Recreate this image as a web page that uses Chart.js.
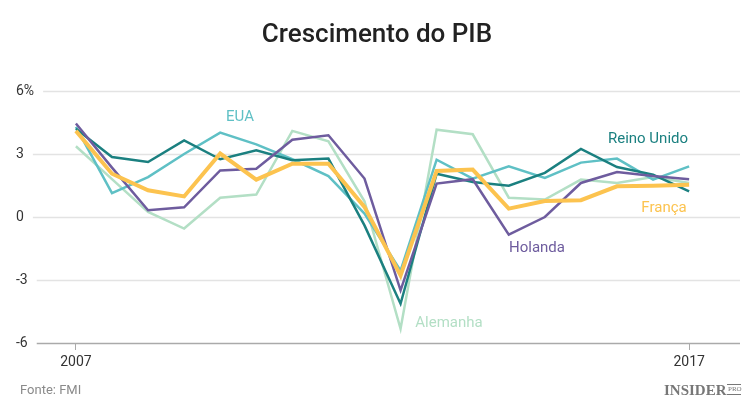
<!DOCTYPE html>
<html>
<head>
<meta charset="utf-8">
<script src="https://cdn.jsdelivr.net/npm/chart.js@4"></script>
<style>
  html, body { margin: 0; padding: 0; background: #fff; }
  #wrap { width: 750px; height: 411px; position: relative; }
</style>
</head>
<body>
<div id="wrap"><canvas id="chart" width="750" height="411"></canvas></div>
<script>
// GDP growth, 18 points from 2007 to 2017
const periods = ["2007", "", "", "", "", "", "", "", "", "", "", "", "", "", "", "", "", "2017"];
const reinoUnido = [4.2, 2.86, 2.62, 3.65, 2.75, 3.18, 2.7, 2.78, -0.4, -4.13, 2.06, 1.67, 1.49, 2.1, 3.24, 2.38, 2.02, 1.22];
const eua = [4.29, 1.14, 1.9, 3.0, 4.02, 3.46, 2.75, 1.95, 0.16, -2.55, 2.73, 1.83, 2.41, 1.86, 2.59, 2.78, 1.78, 2.41];
const holanda = [4.45, 2.35, 0.32, 0.46, 2.22, 2.3, 3.68, 3.89, 1.83, -3.49, 1.59, 1.8, -0.84, 0.0, 1.62, 2.14, 1.95, 1.8];
const franca = [4.1, 2.06, 1.27, 0.98, 3.02, 1.78, 2.54, 2.54, 0.48, -2.78, 2.19, 2.26, 0.4, 0.76, 0.8, 1.46, 1.49, 1.54];
const alemanha = [3.37, 1.8, 0.24, -0.55, 0.92, 1.07, 4.1, 3.6, 0.75, -5.32, 4.16, 3.94, 0.92, 0.83, 1.78, 1.62, 1.9, 1.62];
const yTicks = [-6, -3, 0, 3, 6];

const colors = {
    ru: "#1b8080",
    eua: "#5fc0c5",
    hol: "#6e5c9e",
    fra: "#fcc34f",
    ale: "#b3dfc5"
};

const tickFont = "14px Roboto";
const yLabel = v => (v === 6 ? "6%" : String(v));

function toPoints(arr) {
    return arr.map((v, i) => ({ x: i, y: v }));
}

// y labels left aligned, grid lines start right after their own label
const gridLines = {
    id: "gridLines",
    beforeDatasetsDraw(chart) {
        const ctx = chart.ctx;
        const y = chart.scales.y;
        const right = chart.chartArea.right;
        ctx.save();
        ctx.font = tickFont;
        ctx.textAlign = "left";
        ctx.textBaseline = "middle";
        yTicks.forEach(v => {
            const py = Math.round(y.getPixelForValue(v)) + 0.5;
            const txt = yLabel(v);
            ctx.fillStyle = "#333";
            ctx.fillText(txt, 16, py);
            const start = 16 + ctx.measureText(txt).width + 9;
            ctx.beginPath();
            ctx.strokeStyle = v === -6 ? "#aaa" : "#e3e3e3";
            ctx.lineWidth = 1.5;
            ctx.moveTo(start, py);
            ctx.lineTo(right, py);
            ctx.stroke();
        });
        ctx.restore();
    }
};

// labels next to lines, title and footer
const decorations = {
    id: "decorations",
    afterDraw(chart) {
        const ctx = chart.ctx;
        ctx.save();
        ctx.textAlign = "center";
        ctx.textBaseline = "middle";
        ctx.fillStyle = "#222";
        ctx.font = "500 26px Roboto";
        ctx.fillText("Crescimento do PIB", 377, 35);

        ctx.font = "15px Roboto";
        ctx.fillStyle = colors.eua;
        ctx.fillText("EUA", 240, 117);
        ctx.fillStyle = colors.ru;
        ctx.fillText("Reino Unido", 648, 139);
        ctx.fillStyle = colors.fra;
        ctx.fillText("França", 664, 208);
        ctx.fillStyle = colors.hol;
        ctx.fillText("Holanda", 537, 248);
        ctx.fillStyle = colors.ale;
        ctx.fillText("Alemanha", 449, 323);

        ctx.textAlign = "left";
        ctx.fillStyle = "#8a8a8a";
        ctx.font = "13px Roboto";
        ctx.fillText("Fonte: FMI", 20, 391);

        ctx.fillStyle = "#777";
        ctx.font = "bold 15px 'Liberation Serif'";
        ctx.fillText("INSIDER", 664, 391);
        ctx.font = "7px 'Liberation Serif'";
        ctx.fillText("PRO", 728, 389);
        ctx.fillRect(727, 384, 14, 1);
        ctx.fillRect(727, 394, 14, 1);
        ctx.restore();
    }
};

const mkSet = (label, data, color, width, order) => ({
    label: label,
    data: toPoints(data),
    borderColor: color,
    backgroundColor: color,
    borderWidth: width,
    pointRadius: 0,
    tension: 0,
    order: order
});

new Chart(document.getElementById("chart"), {
    type: "line",
    data: {
        datasets: [
            mkSet("França", franca, colors.fra, 4, 0),
            mkSet("Holanda", holanda, colors.hol, 2.5, 1),
            mkSet("Reino Unido", reinoUnido, colors.ru, 2.5, 2),
            mkSet("EUA", eua, colors.eua, 2.5, 3),
            mkSet("Alemanha", alemanha, colors.ale, 2.5, 4)
        ]
    },
    options: {
        responsive: false,
        animation: false,
        layout: { padding: { top: 91, right: 10, left: 0, bottom: 0 } },
        plugins: {
            legend: { display: false },
            tooltip: { enabled: false }
        },
        scales: {
            x: {
                type: "linear",
                min: -0.94,
                max: 18.41,
                afterBuildTicks: scale => {
                    scale.ticks = [{ value: 0 }, { value: periods.length - 1 }];
                },
                afterFit: scale => { scale.height = 68; },
                ticks: {
                    callback: v => periods[v],
                    color: "#333",
                    font: { family: "Roboto", size: 14 },
                    padding: 4,
                    maxRotation: 0,
                    autoSkip: false
                },
                grid: {
                    drawOnChartArea: false,
                    drawTicks: true,
                    tickLength: 7,
                    color: "#aaa"
                },
                border: { display: false }
            },
            y: {
                min: -6,
                max: 6,
                afterBuildTicks: scale => {
                    scale.ticks = yTicks.map(v => ({ value: v }));
                },
                afterFit: scale => { scale.width = 42; },
                ticks: { display: false },
                grid: { display: false },
                border: { display: false }
            }
        }
    },
    plugins: [gridLines, decorations]
});
</script>
</body>
</html>
